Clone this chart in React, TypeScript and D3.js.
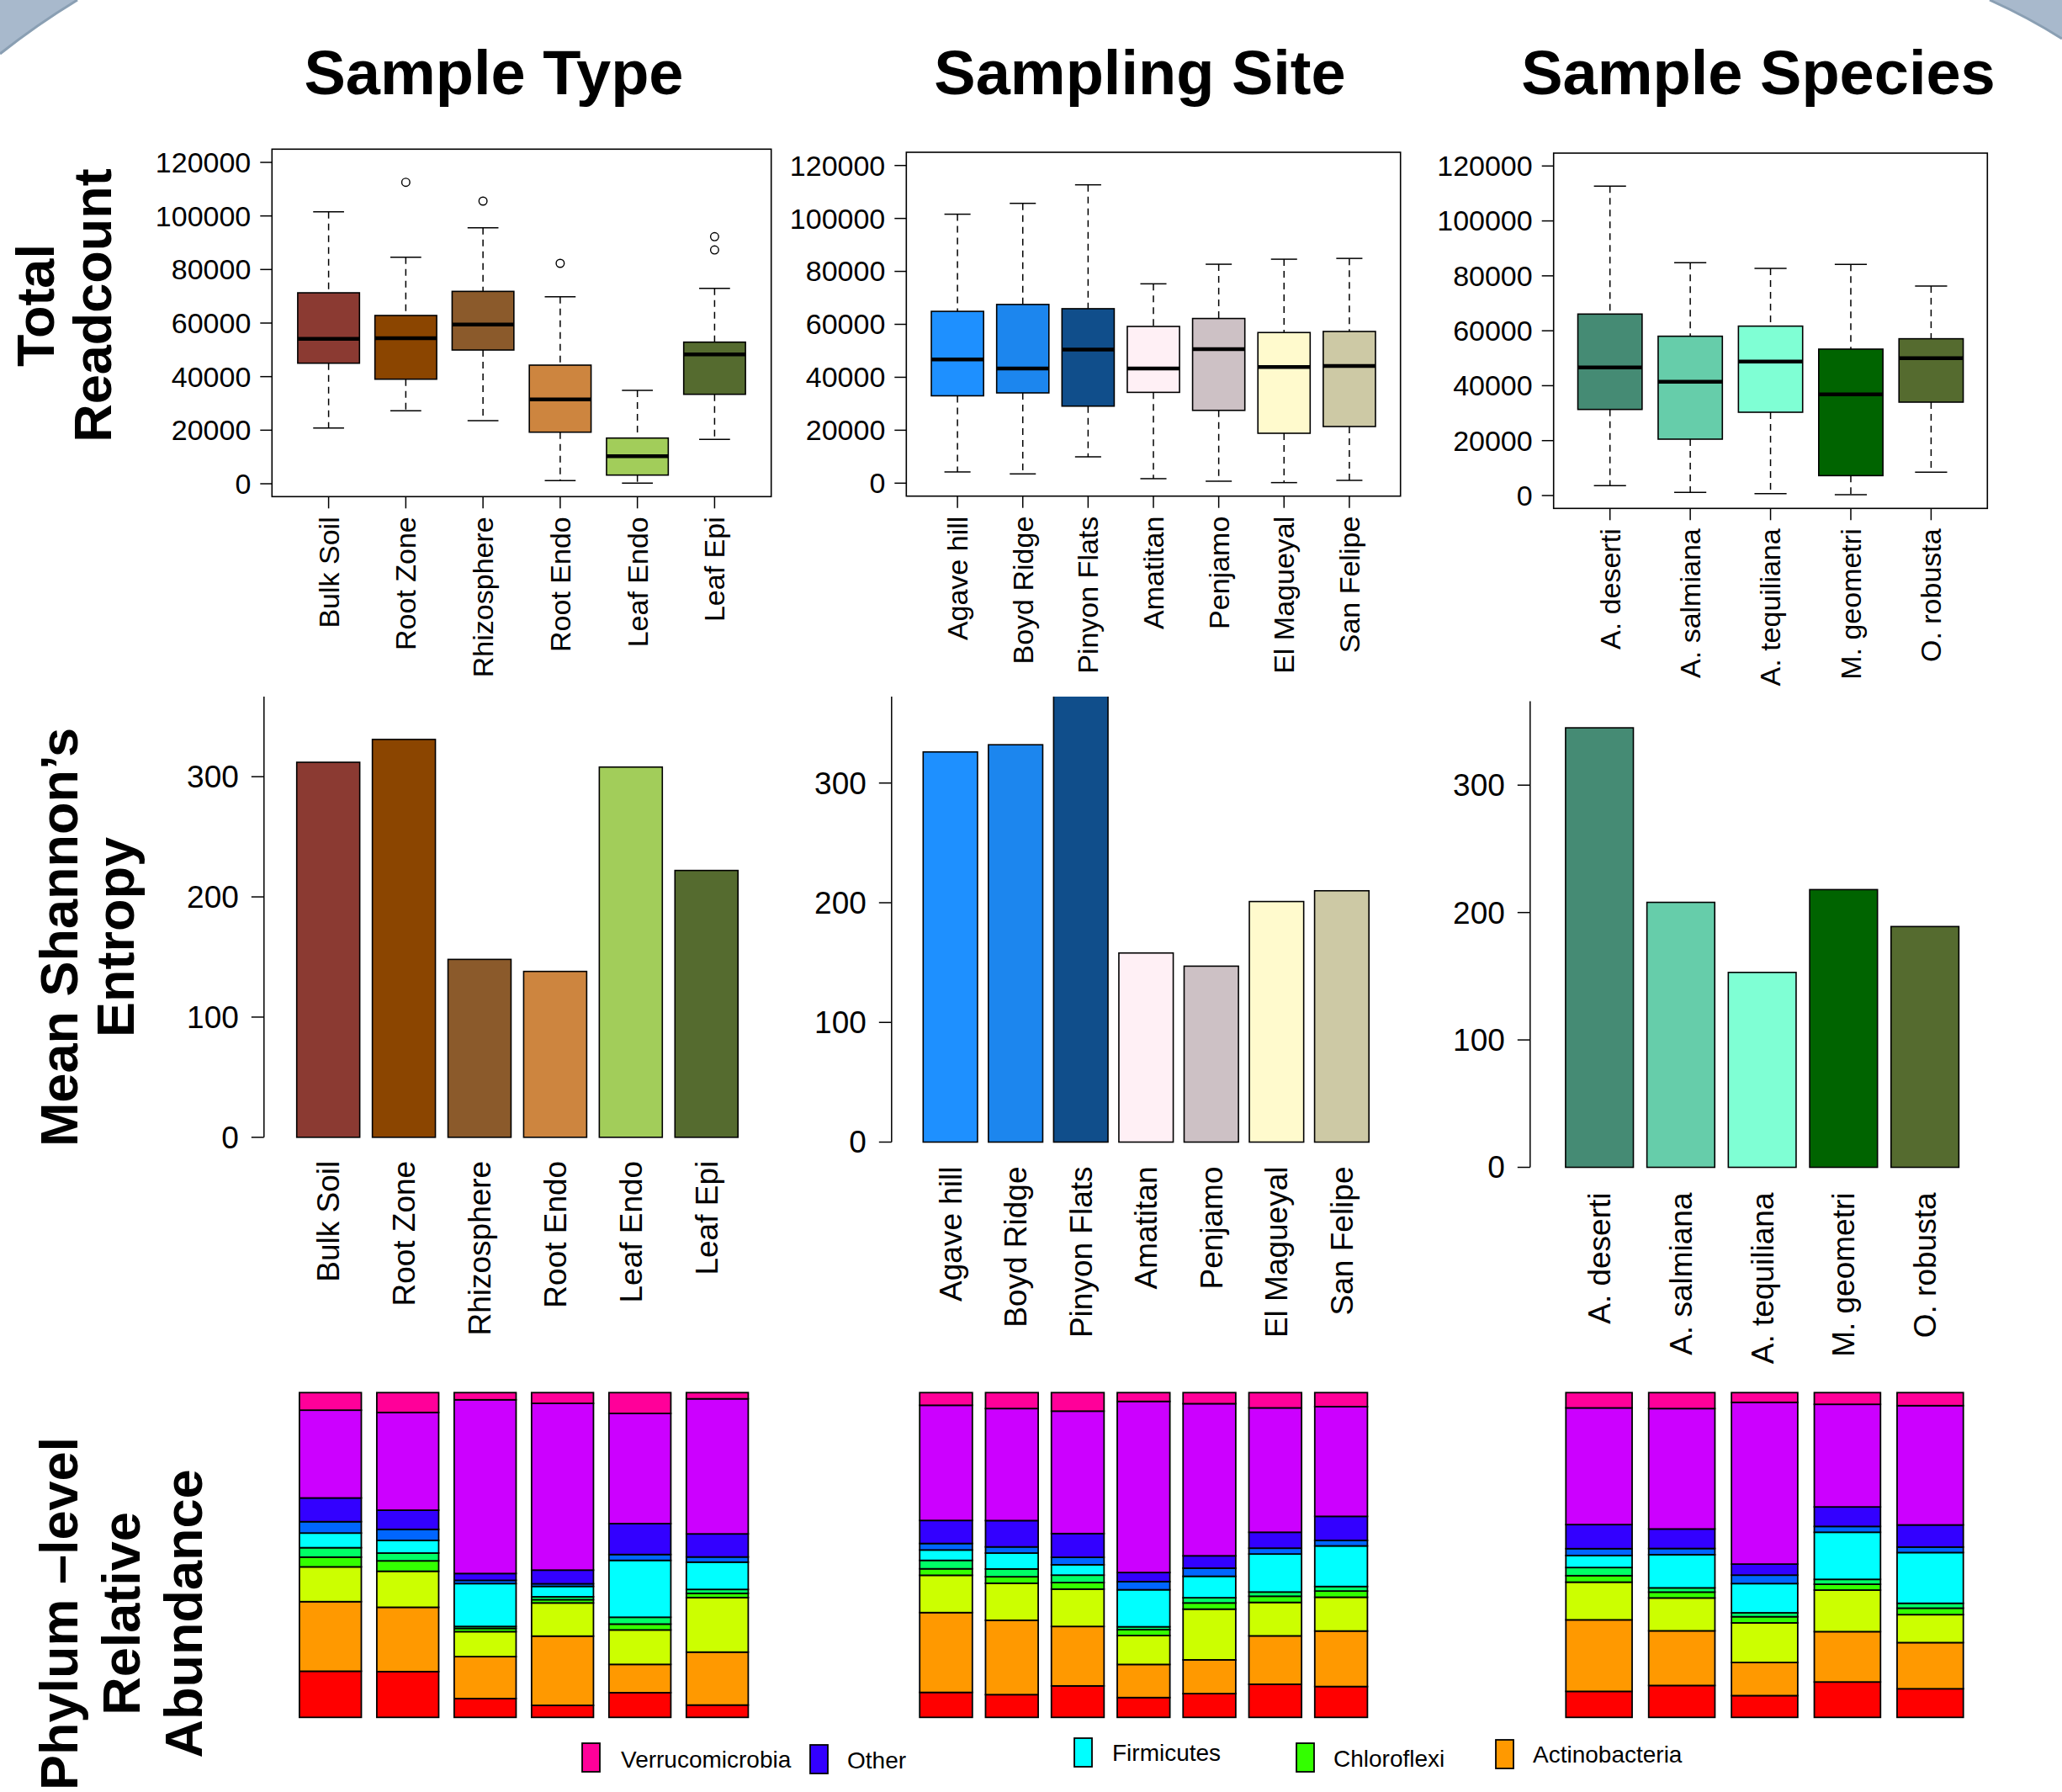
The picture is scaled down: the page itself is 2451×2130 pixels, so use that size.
import React from 'react';
import * as d3 from 'd3';

const W = 2451;
const H = 2130;
const FONT = 'Liberation Sans, Arial, Helvetica, sans-serif';

// ---- categories ----
const typeNames = ['Bulk Soil', 'Root Zone', 'Rhizosphere', 'Root Endo', 'Leaf Endo', 'Leaf Epi'];
const siteNames = ['Agave hill', 'Boyd Ridge', 'Pinyon Flats', 'Amatitan', 'Penjamo', 'El Magueyal', 'San Felipe'];
const speciesNames = ['A. deserti', 'A. salmiana', 'A. tequiliana', 'M. geometri', 'O. robusta'];

const typeColors = ['#8B3A32', '#8B4500', '#8B5A2B', '#CD853F', '#A2CD5A', '#556B2F'];
const siteColors = ['#1E90FF', '#1C86EE', '#104E8B', '#FFF0F5', '#CDC1C5', '#FFFACD', '#CDC9A5'];
const speciesColors = ['#458B74', '#66CDAA', '#7FFFD4', '#006400', '#556B2F'];

// ---- total readcount: [lower whisker, Q1, median, Q3, upper whisker] ----
const typeStats = [
  [20830, 45020, 54130, 71300, 101560],
  [27230, 39050, 54340, 62830, 84600],
  [23560, 49940, 59470, 71830, 95600],
  [1150, 19260, 31510, 44290, 69830],
  [210, 3240, 10270, 17060, 34870],
  [16550, 33400, 48280, 52880, 72970],
];
const typeOutliers = [[], [112550], [105550], [82300], [], [92250, 87320]];

const siteStats = [
  [4240, 33000, 46700, 64900, 101600],
  [3500, 34100, 43300, 67500, 105700],
  [9950, 29100, 50500, 65900, 112700],
  [1700, 34300, 43300, 59200, 75300],
  [740, 27500, 50600, 62200, 82700],
  [210, 18850, 43900, 56900, 84600],
  [1060, 21400, 44300, 57300, 84900],
];
const siteOutliers = [[], [], [], [], [], [], []];

const speciesStats = [
  [3570, 31350, 46670, 66080, 112650],
  [1120, 20530, 41470, 58010, 84770],
  [715, 30330, 48820, 61690, 82720],
  [300, 7250, 36870, 53310, 84150],
  [8480, 34010, 50040, 57090, 76290],
];
const speciesOutliers = [[], [], [], [], []];

const readTicks = [0, 20000, 40000, 60000, 80000, 100000, 120000];

// ---- mean shannon entropy ----
const typeEntropy = [312, 331, 148, 138, 308, 222];
const siteEntropy = [326, 332, 390, 158, 147, 201, 210];
const speciesEntropy = [345, 208, 153, 218, 189];
const entropyTicks = [0, 100, 200, 300];

// ---- phylum level relative abundance (%) ----
const phyla = ['Acidobacteria', 'Actinobacteria', 'Bacteroidetes', 'Chloroflexi', 'Cyanobacteria',
  'Firmicutes', 'Gemmatimonadetes', 'Other', 'Proteobacteria', 'Verrucomicrobia'];
const phylaColors = ['#FF0000', '#FF9900', '#CCFF00', '#33FF00', '#00FF66',
  '#00FFFF', '#0066FF', '#3300FF', '#CC00FF', '#FF0099'];

const typeAbund = [
  [14.2, 21.4, 10.7, 3.0, 2.9, 4.5, 3.5, 7.3, 27.0, 5.4],
  [14.1, 19.8, 11.1, 3.2, 2.4, 3.9, 3.4, 5.9, 30.1, 6.1],
  [5.8, 12.9, 7.7, 1.0, 0.6, 13.2, 1.0, 2.1, 53.5, 2.2],
  [3.7, 21.3, 10.2, 1.0, 0.9, 3.2, 0.8, 4.2, 51.3, 3.3],
  [7.6, 8.7, 10.6, 1.8, 2.1, 17.5, 1.8, 9.5, 33.9, 6.4],
  [3.8, 16.3, 16.8, 1.3, 1.2, 8.4, 1.6, 7.1, 41.6, 1.9],
];
const siteAbund = [
  [7.7, 24.6, 11.5, 2.0, 2.6, 3.2, 2.0, 7.1, 35.5, 3.9],
  [7.0, 22.9, 11.4, 2.0, 2.4, 4.9, 1.9, 8.1, 34.5, 4.9],
  [9.7, 18.3, 11.5, 2.0, 2.3, 3.2, 2.3, 7.3, 37.7, 5.7],
  [6.1, 10.2, 8.9, 1.8, 0.9, 11.4, 2.5, 2.8, 52.7, 2.7],
  [7.3, 10.4, 15.6, 1.9, 1.6, 6.6, 2.5, 3.8, 46.8, 3.4],
  [10.2, 14.9, 10.3, 1.9, 1.3, 11.7, 1.8, 4.9, 38.3, 4.7],
  [9.5, 17.1, 10.4, 1.9, 1.4, 12.5, 1.7, 7.4, 33.8, 4.3],
];
const speciesAbund = [
  [8.0, 22.0, 11.6, 2.0, 2.5, 3.7, 2.1, 7.4, 35.9, 4.7],
  [9.8, 16.8, 10.1, 1.8, 1.3, 10.2, 1.9, 6.0, 37.0, 4.9],
  [6.7, 10.2, 12.2, 1.9, 1.2, 9.0, 2.6, 3.4, 49.8, 3.0],
  [10.9, 15.5, 12.8, 1.8, 1.5, 14.5, 1.8, 6.0, 31.6, 3.6],
  [8.8, 14.2, 8.6, 2.0, 1.5, 15.6, 1.7, 6.8, 36.7, 4.0],
];

const legendKeys = ['Verrucomicrobia', 'Other', 'Firmicutes', 'Chloroflexi', 'Actinobacteria'];

// ---- layout ----
const legendPos = [
  { x: 692, y: 2072, tx: 738, ty: 2101 },
  { x: 963, y: 2074, tx: 1007, ty: 2102 },
  { x: 1277, y: 2066, tx: 1322, ty: 2093 },
  { x: 1541, y: 2072, tx: 1585, ty: 2100 },
  { x: 1778, y: 2068, tx: 1822, ty: 2095 },
];

const BoxPanel = ({ names, stats, outliers, colors, frame, yRange, xRange }: any) => {
  const y = d3.scaleLinear().domain([0, 120000]).range(yRange);
  const x = d3.scaleLinear().domain([0, names.length - 1]).range(xRange);
  const step = x(1) - x(0);
  const bw = step * 0.8;
  return (
    <g>
      <rect x={frame[0]} y={frame[2]} width={frame[1] - frame[0]} height={frame[3] - frame[2]}
        fill="none" stroke="#000" strokeWidth={1.6} />
      {readTicks.map(t => (
        <g key={t}>
          <line x1={frame[0] - 14} x2={frame[0]} y1={y(t)} y2={y(t)} stroke="#000" strokeWidth={1.5} />
          <text x={frame[0] - 25} y={y(t)} dy="0.35em" textAnchor="end" fontSize={34}>{t}</text>
        </g>
      ))}
      {names.map((n: string, i: number) => {
        const [lo, q1, med, q3, hi] = stats[i];
        const cx = x(i);
        return (
          <g key={n}>
            <line x1={cx} x2={cx} y1={y(hi)} y2={y(q3)} stroke="#000" strokeWidth={1.5} strokeDasharray="8,6" />
            <line x1={cx} x2={cx} y1={y(q1)} y2={y(lo)} stroke="#000" strokeWidth={1.5} strokeDasharray="8,6" />
            <line x1={cx - bw / 4} x2={cx + bw / 4} y1={y(hi)} y2={y(hi)} stroke="#000" strokeWidth={1.5} />
            <line x1={cx - bw / 4} x2={cx + bw / 4} y1={y(lo)} y2={y(lo)} stroke="#000" strokeWidth={1.5} />
            <rect x={cx - bw / 2} y={y(q3)} width={bw} height={y(q1) - y(q3)}
              fill={colors[i]} stroke="#000" strokeWidth={1.6} />
            <line x1={cx - bw / 2} x2={cx + bw / 2} y1={y(med)} y2={y(med)} stroke="#000" strokeWidth={4.5} />
            {outliers[i].map((o: number, k: number) => (
              <circle key={k} cx={cx} cy={y(o)} r={4.8} fill="none" stroke="#000" strokeWidth={1.4} />
            ))}
            <line x1={cx} x2={cx} y1={frame[3]} y2={frame[3] + 14} stroke="#000" strokeWidth={1.5} />
            <text transform={`translate(${cx},${frame[3] + 24}) rotate(-90)`} dy="0.35em"
              textAnchor="end" fontSize={34}>{n}</text>
          </g>
        );
      })}
    </g>
  );
};

const BarPanel = ({ id, names, values, colors, axisX, xRange, y0, yTop, topValue, labelGap }: any) => {
  const x = d3.scaleBand().domain(names).range(xRange).paddingInner(1 / 6).paddingOuter(0);
  const y = d3.scaleLinear().domain([0, topValue]).range([y0, yTop]);
  return (
    <g>
      <clipPath id={id}>
        <rect x={xRange[0] - 10} y={yTop} width={xRange[1] - xRange[0] + 20} height={y0 - yTop + 10} />
      </clipPath>
      <line x1={axisX} x2={axisX} y1={y(0)} y2={yTop} stroke="#000" strokeWidth={1.5} />
      {entropyTicks.map(t => (
        <g key={t}>
          <line x1={axisX - 15} x2={axisX} y1={y(t)} y2={y(t)} stroke="#000" strokeWidth={1.5} />
          <text x={axisX - 30} y={y(t)} dy="0.35em" textAnchor="end" fontSize={37}>{t}</text>
        </g>
      ))}
      <g clipPath={`url(#${id})`}>
        {names.map((n: string, i: number) => (
          <rect key={n} x={x(n)} y={y(values[i])} width={x.bandwidth()} height={y(0) - y(values[i])}
            fill={colors[i]} stroke="#000" strokeWidth={1.6} />
        ))}
      </g>
      {names.map((n: string) => (
        <text key={n} transform={`translate(${(x(n) as number) + x.bandwidth() / 2},${y0 + labelGap}) rotate(-90)`}
          dy="0.35em" textAnchor="end" fontSize={37}>{n}</text>
      ))}
    </g>
  );
};

const StackPanel = ({ names, matrix, xRange }: any) => {
  const rows = names.map((n: string, i: number) => {
    const r: any = { name: n };
    phyla.forEach((p, j) => { r[p] = matrix[i][j]; });
    return r;
  });
  const series = d3.stack().keys(phyla).offset(d3.stackOffsetExpand)(rows);
  const x = d3.scaleBand().domain(names).range(xRange).paddingInner(0.2).paddingOuter(0);
  const y = d3.scaleLinear().domain([0, 1]).range([2041.3, 1655.3]);
  return (
    <g>
      {series.map((s, j) => (
        <g key={s.key} fill={phylaColors[j]}>
          {s.map((d: any) => (
            <rect key={d.data.name} x={x(d.data.name)} y={y(d[1])} width={x.bandwidth()}
              height={y(d[0]) - y(d[1])} stroke="#000" strokeWidth={1.8} />
          ))}
        </g>
      ))}
    </g>
  );
};

const RowLabel = ({ lines, xs, cy }: any) => (
  <g>
    {lines.map((l: string, i: number) => (
      <text key={i} transform={`translate(${xs[i]},${cy}) rotate(-90)`} textAnchor="middle"
        fontSize={63} fontWeight="bold">{l}</text>
    ))}
  </g>
);

export default function App() {
  return (
    <svg width={W} height={H} style={{ position: 'absolute', left: 0, top: 0, background: '#fff' }}
      fontFamily={FONT}>
      <rect width={W} height={H} fill="#fff" />
      {/* slide corners */}
      <path d="M0,0 L92,0 A914,914 0 0 0 0,64 Z" fill="#a8b9cc" />
      <path d="M92,0 A914,914 0 0 0 0,64" fill="none" stroke="#8a9fb3" strokeWidth={3} />
      <path d="M2451,0 L2365,0 A700,700 0 0 1 2451,46 Z" fill="#a8b9cc" />
      <path d="M2365,0 A700,700 0 0 1 2451,46" fill="none" stroke="#8a9fb3" strokeWidth={3} />

      <text x={587} y={112} textAnchor="middle" fontSize={74} fontWeight="bold">Sample Type</text>
      <text x={1355} y={112} textAnchor="middle" fontSize={74} fontWeight="bold">Sampling Site</text>
      <text x={2090} y={112} textAnchor="middle" fontSize={74} fontWeight="bold">Sample Species</text>

      <RowLabel lines={['Total', 'Readcount']} xs={[64, 132]} cy={363} />
      <RowLabel lines={['Mean Shannon\u2019s', 'Entropy']} xs={[92, 159]} cy={1114} />
      <RowLabel lines={['Phylum \u2013level', 'Relative', 'Abundance']} xs={[92, 166, 240]} cy={1918} />

      <BoxPanel names={typeNames} stats={typeStats} outliers={typeOutliers} colors={typeColors}
        frame={[323.3, 916.7, 177.3, 590.3]} yRange={[575, 193]} xRange={[390.6, 849.4]} />
      <BoxPanel names={siteNames} stats={siteStats} outliers={siteOutliers} colors={siteColors}
        frame={[1077.3, 1664.7, 181, 589.7]} yRange={[574.3, 196.7]} xRange={[1138.1, 1603.9]} />
      <BoxPanel names={speciesNames} stats={speciesStats} outliers={speciesOutliers} colors={speciesColors}
        frame={[1846.7, 2362.3, 182, 604.3]} yRange={[589, 197.3]} xRange={[1913.7, 2295.4]} />

      <BarPanel id="c1" names={typeNames} values={typeEntropy} colors={typeColors} axisX={313.8}
        xRange={[352.7, 877.2]} y0={1351.8} yTop={827.9} topValue={366.7} labelGap={28} />
      <BarPanel id="c2" names={siteNames} values={siteEntropy} colors={siteColors} axisX={1059.8}
        xRange={[1097.3, 1627.2]} y0={1357.5} yTop={827.9} topValue={372.3} labelGap={29} />
      <BarPanel id="c3" names={speciesNames} values={speciesEntropy} colors={speciesColors} axisX={1818.8}
        xRange={[1860.9, 2328.4]} y0={1387.5} yTop={833.6} topValue={365.8} labelGap={30} />

      <StackPanel names={typeNames} matrix={typeAbund} xRange={[355.9, 889.4]} />
      <StackPanel names={siteNames} matrix={siteAbund} xRange={[1093.2, 1625.4]} />
      <StackPanel names={speciesNames} matrix={speciesAbund} xRange={[1861.3, 2333.7]} />

      {legendKeys.map((k, i) => (
        <g key={k}>
          <rect x={legendPos[i].x} y={legendPos[i].y} width={21} height={34}
            fill={phylaColors[phyla.indexOf(k)]} stroke="#000" strokeWidth={1.8} />
          <text x={legendPos[i].tx} y={legendPos[i].ty} fontSize={28}>{k}</text>
        </g>
      ))}
    </svg>
  );
}
